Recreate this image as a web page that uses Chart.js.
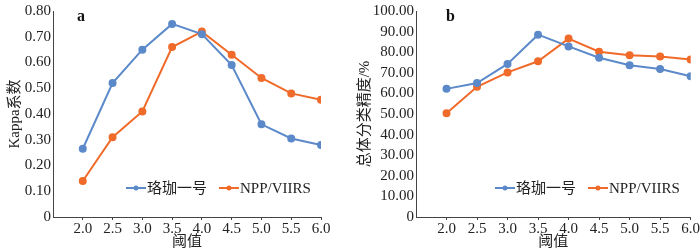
<!DOCTYPE html>
<html>
<head>
<meta charset="utf-8">
<script src="https://cdn.jsdelivr.net/npm/chart.js@4/dist/chart.umd.min.js"></script>
<style>
  html, body { margin: 0; padding: 0; background: #fff; }
  .wrap { display: flex; width: 700px; height: 251px; }
  .box { position: relative; width: 350px; height: 251px; }
</style>
</head>
<body>
<div class="wrap">
  <div class="box"><canvas id="chartA"></canvas></div>
  <div class="box"><canvas id="chartB"></canvas></div>
</div>
<script>
// thresholds on the x axis
const thresholds = [2.0, 2.5, 3.0, 3.5, 4.0, 4.5, 5.0, 5.5, 6.0];
const seriesNames = ['珞珈一号', 'NPP/VIIRS'];

// panel a: Kappa coefficient
const kappaLuojia = [0.265, 0.52, 0.65, 0.75, 0.71, 0.59, 0.36, 0.305, 0.28];
const kappaNpp = [0.14, 0.31, 0.41, 0.66, 0.72, 0.63, 0.54, 0.48, 0.455];

// panel b: overall accuracy (%)
const accLuojia = [62.2, 65.0, 74.3, 88.5, 82.8, 77.3, 73.7, 71.8, 68.3];
const accNpp = [50.4, 63.2, 70.2, 75.6, 86.6, 80.2, 78.5, 77.9, 76.4];

const BLUE = '#5b89c9';
const ORANGE = '#f06b2a';
const SERIF = '"Liberation Serif", "Times New Roman", "Noto Sans CJK SC", serif';

function toPoints(vals) {
    return vals.map((v, i) => ({ x: thresholds[i], y: v }));
}

// legend drawn inside the plot area, like the Excel original
const innerLegend = {
    id: 'innerLegend',
    afterDraw(chart, args, opts) {
        const ctx = chart.ctx;
        ctx.save();
        ctx.font = '15px ' + SERIF;
        ctx.textBaseline = 'middle';
        let x = opts.x;
        chart.data.datasets.forEach(ds => {
            ctx.strokeStyle = ds.borderColor;
            ctx.lineWidth = 2;
            ctx.beginPath();
            ctx.moveTo(x, opts.y);
            ctx.lineTo(x + 20, opts.y);
            ctx.stroke();
            ctx.fillStyle = ds.borderColor;
            ctx.beginPath();
            ctx.arc(x + 10, opts.y, 2.5, 0, Math.PI * 2);
            ctx.fill();
            ctx.fillStyle = '#222';
            ctx.fillText(ds.label, x + 21, opts.y + 1);
            x += opts.gap;
        });
        ctx.restore();
    }
};

// panel letter a / b
const panelLetter = {
    id: 'panelLetter',
    afterDraw(chart, args, opts) {
        const ctx = chart.ctx;
        ctx.save();
        ctx.font = 'bold 16px ' + SERIF;
        ctx.fillStyle = '#111';
        ctx.textBaseline = 'middle';
        ctx.fillText(opts.text, opts.x, opts.y);
        ctx.restore();
    }
};

function makeChart(id, vals1, vals2, cfg) {
    const ctx = document.getElementById(id);
    return new Chart(ctx, {
        type: 'line',
        data: {
            datasets: [
                { label: seriesNames[0], data: toPoints(vals1), borderColor: BLUE, backgroundColor: BLUE,
                  borderWidth: 2, pointRadius: 3, pointHoverRadius: 3 },
                { label: seriesNames[1], data: toPoints(vals2), borderColor: ORANGE, backgroundColor: ORANGE,
                  borderWidth: 2, pointRadius: 3, pointHoverRadius: 3 }
            ]
        },
        options: {
            responsive: true,
            maintainAspectRatio: false,
            animation: false,
            layout: { padding: { top: 0, right: cfg.padRight, left: 0, bottom: 0 } },
            plugins: {
                legend: { display: false },
                tooltip: { enabled: false },
                innerLegend: cfg.legend,
                panelLetter: cfg.letter
            },
            scales: {
                x: {
                    type: 'linear',
                    min: 1.5,
                    max: 6.0,
                    afterBuildTicks: s => { s.ticks = [1.5].concat(thresholds).map(v => ({ value: v })); },
                    ticks: {
                        color: '#222',
                        font: { family: SERIF, size: 15 },
                        padding: 0,
                        autoSkip: false,
                        maxRotation: 0,
                        callback: v => v === 1.5 ? '' : v.toFixed(1)
                    },
                    grid: {
                        drawOnChartArea: false,
                        tickLength: 3,
                        color: c => c.tick && c.tick.value === 1.5 ? 'rgba(0,0,0,0)' : '#444'
                    },
                    border: { color: '#444', width: 1 },
                    title: { display: true, text: '阈值', color: '#222', font: { family: SERIF, size: 15 }, padding: 0 },
                    afterFit: s => { s.height = 34; }
                },
                y: {
                    min: 0,
                    max: cfg.yMax,
                    ticks: {
                        stepSize: cfg.yStep,
                        autoSkip: false,
                        color: '#222',
                        font: { family: SERIF, size: 15 },
                        padding: 2,
                        callback: v => v === 0 ? '0' : v.toFixed(2)
                    },
                    grid: { display: false, drawTicks: false },
                    border: { color: '#444', width: 1 },
                    title: { display: true, text: cfg.yTitle, color: '#222', font: { family: SERIF, size: 15 },
                             padding: { top: 6, bottom: 0 } },
                    afterFit: s => { s.width = cfg.yWidth; }
                }
            }
        },
        plugins: [innerLegend, panelLetter]
    });
}

makeChart('chartA', kappaLuojia, kappaNpp, {
    yMax: 0.8, yStep: 0.1, yTitle: 'Kappa系数', yWidth: 53, padRight: 29,
    legend: { x: 126, y: 188, gap: 93 },
    letter: { text: 'a', x: 77, y: 17 }
});

makeChart('chartB', accLuojia, accNpp, {
    yMax: 100, yStep: 10, yTitle: '总体分类精度/%', yWidth: 66, padRight: 9,
    legend: { x: 145, y: 188, gap: 93 },
    letter: { text: 'b', x: 96, y: 17 }
});
</script>
</body>
</html>
